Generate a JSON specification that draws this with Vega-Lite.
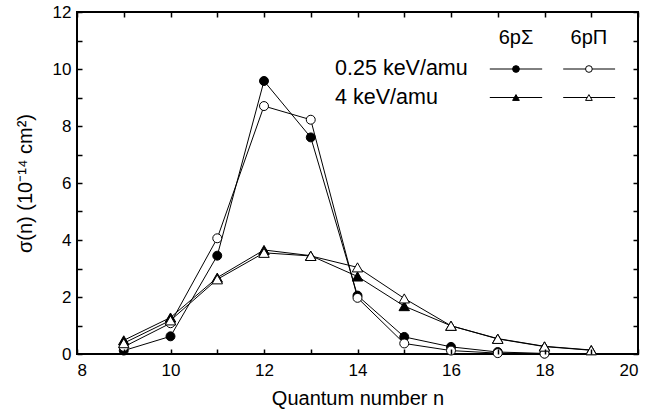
{
  "$schema": "https://vega.github.io/schema/vega-lite/v6.json",
  "width": 561,
  "height": 342,
  "autosize": {"type": "none"},
  "padding": {"left": 77, "top": 12, "right": 11, "bottom": 61},
  "background": "white",
  "config": {
    "view": {"stroke": "black", "strokeWidth": 2},
    "axis": {
      "grid": false,
      "domain": false,
      "ticks": true,
      "tickColor": "black",
      "tickWidth": 1.5,
      "labelFont": "Liberation Sans",
      "labelFontSize": 17,
      "labelColor": "black",
      "titleFont": "Liberation Sans",
      "titleFontSize": 20,
      "titleFontWeight": "normal",
      "titleColor": "black"
    }
  },
  "datasets": {
    "series": [
      {"series": "S025", "marker": "circle", "fill": "filled", "n": 9, "sigma": 0.12},
      {"series": "S025", "marker": "circle", "fill": "filled", "n": 10, "sigma": 0.62},
      {"series": "S025", "marker": "circle", "fill": "filled", "n": 11, "sigma": 3.45},
      {"series": "S025", "marker": "circle", "fill": "filled", "n": 12, "sigma": 9.58},
      {"series": "S025", "marker": "circle", "fill": "filled", "n": 13, "sigma": 7.6},
      {"series": "S025", "marker": "circle", "fill": "filled", "n": 14, "sigma": 2.05},
      {"series": "S025", "marker": "circle", "fill": "filled", "n": 15, "sigma": 0.6},
      {"series": "S025", "marker": "circle", "fill": "filled", "n": 16, "sigma": 0.25},
      {"series": "S025", "marker": "circle", "fill": "filled", "n": 17, "sigma": 0.07},
      {"series": "S025", "marker": "circle", "fill": "filled", "n": 18, "sigma": 0.02},
      {"series": "P025", "marker": "circle", "fill": "open", "n": 9, "sigma": 0.25},
      {"series": "P025", "marker": "circle", "fill": "open", "n": 10, "sigma": 1.08},
      {"series": "P025", "marker": "circle", "fill": "open", "n": 11, "sigma": 4.06},
      {"series": "P025", "marker": "circle", "fill": "open", "n": 12, "sigma": 8.7},
      {"series": "P025", "marker": "circle", "fill": "open", "n": 13, "sigma": 8.22},
      {"series": "P025", "marker": "circle", "fill": "open", "n": 14, "sigma": 1.97},
      {"series": "P025", "marker": "circle", "fill": "open", "n": 15, "sigma": 0.37},
      {"series": "P025", "marker": "circle", "fill": "open", "n": 16, "sigma": 0.12},
      {"series": "P025", "marker": "circle", "fill": "open", "n": 17, "sigma": 0.03},
      {"series": "P025", "marker": "circle", "fill": "open", "n": 18, "sigma": 0.01},
      {"series": "S4", "marker": "triangle", "fill": "filled", "n": 9, "sigma": 0.48},
      {"series": "S4", "marker": "triangle", "fill": "filled", "n": 10, "sigma": 1.28},
      {"series": "S4", "marker": "triangle", "fill": "filled", "n": 11, "sigma": 2.68},
      {"series": "S4", "marker": "triangle", "fill": "filled", "n": 12, "sigma": 3.65},
      {"series": "S4", "marker": "triangle", "fill": "filled", "n": 13, "sigma": 3.45},
      {"series": "S4", "marker": "triangle", "fill": "filled", "n": 14, "sigma": 2.72},
      {"series": "S4", "marker": "triangle", "fill": "filled", "n": 15, "sigma": 1.68},
      {"series": "S4", "marker": "triangle", "fill": "filled", "n": 16, "sigma": 0.99},
      {"series": "S4", "marker": "triangle", "fill": "filled", "n": 17, "sigma": 0.54},
      {"series": "S4", "marker": "triangle", "fill": "filled", "n": 18, "sigma": 0.27},
      {"series": "S4", "marker": "triangle", "fill": "filled", "n": 19, "sigma": 0.14},
      {"series": "P4", "marker": "triangle", "fill": "open", "n": 9, "sigma": 0.38},
      {"series": "P4", "marker": "triangle", "fill": "open", "n": 10, "sigma": 1.18},
      {"series": "P4", "marker": "triangle", "fill": "open", "n": 11, "sigma": 2.62},
      {"series": "P4", "marker": "triangle", "fill": "open", "n": 12, "sigma": 3.55},
      {"series": "P4", "marker": "triangle", "fill": "open", "n": 13, "sigma": 3.44},
      {"series": "P4", "marker": "triangle", "fill": "open", "n": 14, "sigma": 3.04},
      {"series": "P4", "marker": "triangle", "fill": "open", "n": 15, "sigma": 1.95},
      {"series": "P4", "marker": "triangle", "fill": "open", "n": 16, "sigma": 0.99},
      {"series": "P4", "marker": "triangle", "fill": "open", "n": 17, "sigma": 0.53},
      {"series": "P4", "marker": "triangle", "fill": "open", "n": 18, "sigma": 0.26},
      {"series": "P4", "marker": "triangle", "fill": "open", "n": 19, "sigma": 0.13}
    ],
    "legendLines": [
      {"x": 16.83, "x2": 17.95, "y": 10.0},
      {"x": 18.4, "x2": 19.51, "y": 10.0},
      {"x": 16.83, "x2": 17.95, "y": 9.0},
      {"x": 18.4, "x2": 19.51, "y": 9.0}
    ],
    "legendPts": [
      {"x": 17.39, "y": 10.0, "marker": "circle", "fill": "filled"},
      {"x": 18.95, "y": 10.0, "marker": "circle", "fill": "open"},
      {"x": 17.39, "y": 9.0, "marker": "triangle", "fill": "filled"},
      {"x": 18.95, "y": 9.0, "marker": "triangle", "fill": "open"}
    ],
    "legendText": [
      {"x": 13.52, "y": 10.0, "label": "0.25 keV/amu"},
      {"x": 13.52, "y": 9.0, "label": "4 keV/amu"}
    ],
    "legendHead": [
      {"x": 17.39, "y": 11.1, "label": "6pΣ"},
      {"x": 18.95, "y": 11.1, "label": "6pΠ"}
    ]
  },
  "layer": [
    {
      "data": {"name": "series"},
      "mark": {"type": "line", "color": "black", "strokeWidth": 1},
      "encoding": {
        "x": {
          "field": "n", "type": "quantitative",
          "scale": {"domain": [8, 20], "nice": false, "zero": false},
          "axis": {
            "orient": "bottom",
            "zindex": 2,
            "offset": -5,
            "tickSize": 5,
            "values": [8, 9, 10, 11, 12, 13, 14, 15, 16, 17, 18, 19, 20],
            "labelExpr": "datum.value % 2 === 0 ? datum.label : ''",
            "labelPadding": 8,
            "title": "Quantum number n",
            "titlePadding": 10
          }
        },
        "y": {
          "field": "sigma", "type": "quantitative",
          "scale": {"domain": [0, 12], "nice": false},
          "axis": {
            "orient": "left",
            "zindex": 2,
            "offset": -5,
            "tickSize": 5,
            "values": [0, 1, 2, 3, 4, 5, 6, 7, 8, 9, 10, 11, 12],
            "labelExpr": "datum.value % 2 === 0 ? datum.label : ''",
            "labelPadding": 6,
            "title": "σ(n) (10⁻¹⁴ cm²)",
            "titlePadding": 17
          }
        },
        "detail": {"field": "series"}
      }
    },
    {
      "data": {"name": "series"},
      "mark": {"type": "point", "filled": true, "stroke": "black", "strokeWidth": 1, "opacity": 1},
      "encoding": {
        "x": {
          "field": "n", "type": "quantitative",
          "axis": {"orient": "top", "zindex": 2, "offset": -5, "tickSize": 5, "labels": false, "title": null, "values": [8, 9, 10, 11, 12, 13, 14, 15, 16, 17, 18, 19, 20]}
        },
        "y": {
          "field": "sigma", "type": "quantitative",
          "axis": {"orient": "right", "zindex": 2, "offset": -5, "tickSize": 5, "labels": false, "title": null, "values": [0, 1, 2, 3, 4, 5, 6, 7, 8, 9, 10, 11, 12]}
        },
        "shape": {"field": "marker", "type": "nominal", "scale": {"domain": ["circle", "triangle"], "range": ["circle", "triangle-up"]}, "legend": null},
        "fill": {"field": "fill", "type": "nominal", "scale": {"domain": ["filled", "open"], "range": ["black", "white"]}, "legend": null},
        "size": {"field": "marker", "type": "nominal", "scale": {"domain": ["circle", "triangle"], "range": [80, 110]}, "legend": null}
      }
    },
    {
      "data": {"name": "legendLines"},
      "mark": {"type": "rule", "color": "black", "strokeWidth": 1},
      "encoding": {
        "x": {"field": "x", "type": "quantitative", "axis": null},
        "x2": {"field": "x2"},
        "y": {"field": "y", "type": "quantitative", "axis": null}
      }
    },
    {
      "data": {"name": "legendPts"},
      "mark": {"type": "point", "filled": true, "stroke": "black", "strokeWidth": 1, "size": 45, "opacity": 1},
      "encoding": {
        "x": {"field": "x", "type": "quantitative", "axis": null},
        "y": {"field": "y", "type": "quantitative", "axis": null},
        "shape": {"field": "marker", "type": "nominal", "legend": null},
        "fill": {"field": "fill", "type": "nominal", "legend": null}
      }
    },
    {
      "data": {"name": "legendText"},
      "mark": {"type": "text", "align": "left", "baseline": "middle", "font": "Liberation Sans", "fontSize": 21.5, "color": "black"},
      "encoding": {
        "x": {"field": "x", "type": "quantitative", "axis": null},
        "y": {"field": "y", "type": "quantitative", "axis": null},
        "text": {"field": "label"}
      }
    },
    {
      "data": {"name": "legendHead"},
      "mark": {"type": "text", "align": "center", "baseline": "middle", "font": "Liberation Sans", "fontSize": 20, "color": "black"},
      "encoding": {
        "x": {"field": "x", "type": "quantitative", "axis": null},
        "y": {"field": "y", "type": "quantitative", "axis": null},
        "text": {"field": "label"}
      }
    }
  ],
  "resolve": {"axis": {"x": "independent", "y": "independent"}}
}
